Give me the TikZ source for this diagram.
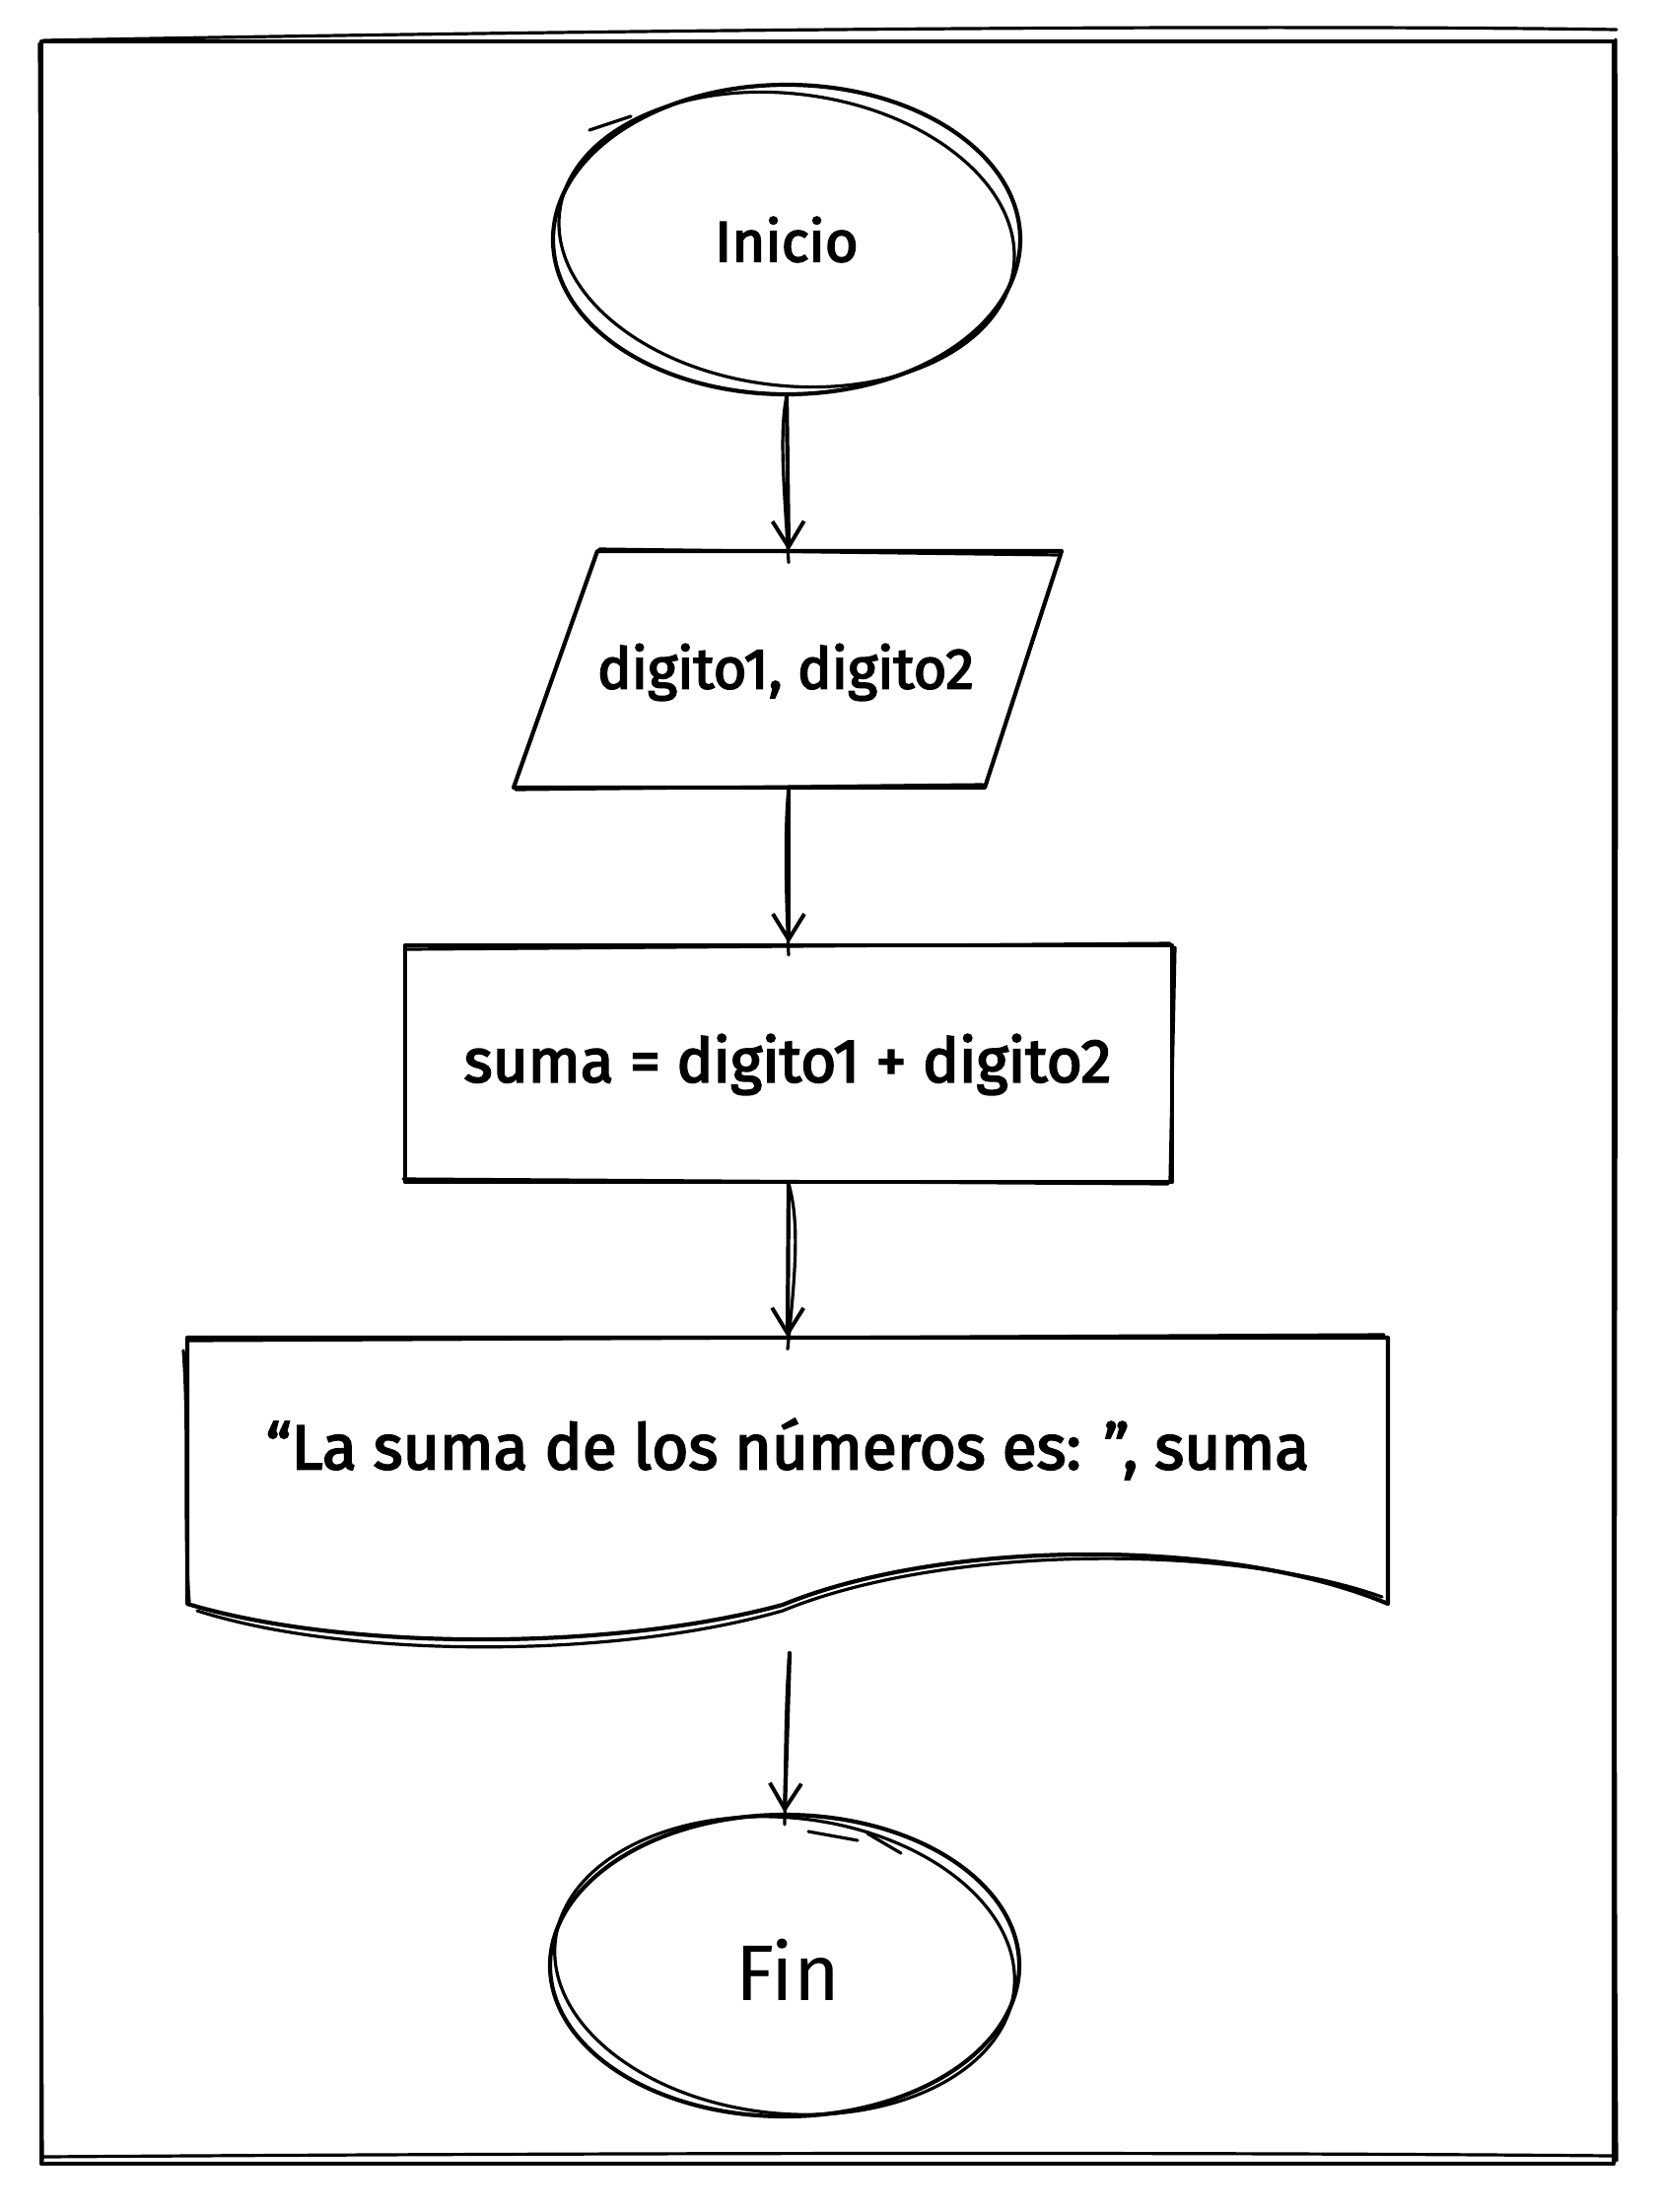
\documentclass[tikz,border=0pt]{standalone}
\usepackage{fontspec}
\setmainfont{Fira Sans}
\newfontfamily\heavyfont[FakeBold=3]{Fira Sans}
\usetikzlibrary{shapes.geometric,arrows.meta}
\begin{document}
\begin{tikzpicture}[x=0.5pt,y=-0.5pt,
  ink/.style={line width=2.1pt, line join=round, line cap=round},
  ink2/.style={line width=1.6pt, line join=round, line cap=round},
  lbl/.style={font=\heavyfont\fontsize{29}{34}\selectfont, inner sep=0pt},
  conn/.style={ink, -{Straight Barb[length=13pt,width=16pt,line width=2pt]}},
  term/.style={ellipse, draw, ink, inner sep=0pt},
  procbox/.style={rectangle, draw, ink, inner sep=0pt},
  ghost/.style={rectangle, draw=none, inner sep=0pt},
]
\useasboundingbox (0,0) rectangle (1684,2244);
\fill[white] (0,0) rectangle (1684,2244);

% frame
\draw[ink] (42,42) -- (1637,42) -- (1637,2195) -- (42,2195) -- cycle;
\draw[ink2] (44,41) .. controls (700,29) and (1300,25) .. (1640,30);
\draw[ink2] (1639,40) .. controls (1642,800) and (1636,1600) .. (1640,2192);
\draw[ink2] (44,2188) .. controls (600,2184) and (1200,2183) .. (1636,2187);
\draw[ink2] (40,44) .. controls (44,800) and (40,1600) .. (43,2192);

% Inicio
\node[term, minimum width=237pt, minimum height=157pt] (ini) at (798,243) {};
\draw[ink2, rotate around={-7:(ini.center)}] (ini.center) ellipse [x radius=232, y radius=148];
\draw[ink2] (598,132) -- (640,118);
\node[lbl] (initxt) at (798,243) {Inicio};

% input parallelogram
\node[ghost, minimum width=278pt, minimum height=120pt] (inp) at (800,679) {};
\draw[ink] (606,559) -- (1077,559) -- (999,799) -- (521,799) -- cycle;
\draw[ink2] (608,557) -- (1075,563);
\draw[ink2] (523,801) -- (997,796);
\node[lbl] (inptxt) at (797,682) {digito1, digito2};

% process
\node[procbox, minimum width=389pt, minimum height=120pt] (proc) at (800,1079) {};
\draw[ink2] (413,963) -- (1187,957);
\draw[ink2] (1192,961) -- (1187,1197);
\draw[ink2] (409,1196) -- (1185,1201);
\node[lbl, font=\heavyfont\fontsize{31}{36}\selectfont] (proctxt) at (799,1080) {suma = digito1 + digito2};

% output document
\node[ghost, minimum width=609pt, minimum height=135pt] (out) at (799,1492) {};
\draw[ink] (190,1357) -- (1408,1357) -- (1408,1627)
  .. controls (1250,1560) and (960,1560) .. (794,1628)
  .. controls (620,1675) and (350,1675) .. (190,1627) -- cycle;
\draw[ink2] (192,1360) -- (1404,1354);
\draw[ink2] (186,1370) .. controls (192,1450) and (186,1550) .. (192,1625);
\draw[ink2] (1402,1620) .. controls (1250,1566) and (960,1566) .. (794,1634)
  .. controls (620,1684) and (350,1682) .. (200,1634);
\node[lbl, font=\heavyfont\fontsize{32}{37}\selectfont] (outtxt) at (799,1470) {“La suma de los números es: ”, suma};

% Fin
\node[term, minimum width=238pt, minimum height=153pt] (fin) at (796,1994) {};
\draw[ink2, rotate around={-6:(fin.center)}] (fin.center) ellipse [x radius=234, y radius=150];
\draw[ink2] (820,1858) -- (870,1867);
\draw[ink2] (880,1860) -- (914,1880);
\node[font=\fontsize{40}{45}\selectfont, inner sep=0pt] (fintxt) at (799,1998) {Fin};

% connectors
\coordinate (wavebot) at (801,1677);
\draw[conn] (ini.south) -- (inp.north);
\draw[ink2] (ini.south) .. controls (790,440) and (796,500) .. ([yshift=-6pt]inp.north);
\draw[conn] (inp.south) -- (proc.north);
\draw[ink2] (inp.south) .. controls (796,840) and (797,900) .. ([yshift=-6pt]proc.north);
\draw[conn] (proc.south) -- (out.north);
\draw[ink2] (proc.south) .. controls (812,1240) and (806,1300) .. ([yshift=-6pt]out.north);
\draw[conn] (wavebot) -- (fin.north);
\draw[ink2] (wavebot) .. controls (797,1720) and (797,1780) .. ([yshift=-6pt]fin.north);
\end{tikzpicture}
\end{document}
